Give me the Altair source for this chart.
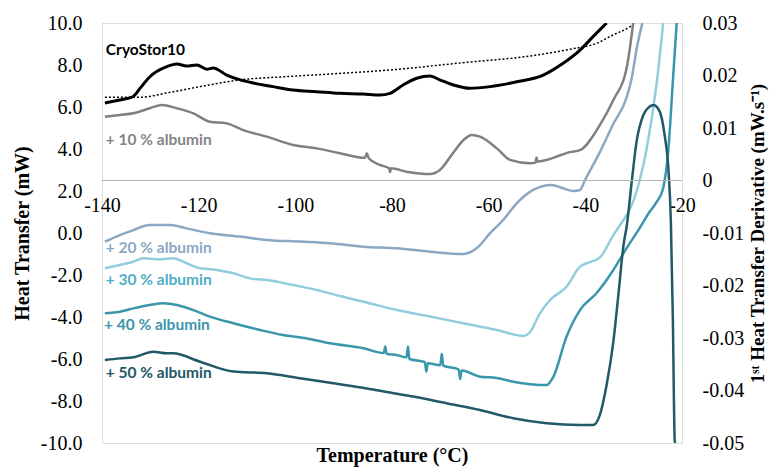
import altair as alt
import pandas as pd

# ---------------- data ----------------
cryo_x = [-139.4, -136.3, -133.6, -132.1, -130.1, -126.6, -124.5, -122.5, -120.4, -118.3, -117.0,
          -114.2, -111.4, -108.7, -104.6, -100.5, -95.6, -90.8, -86.0, -82.5, -80.4, -77.7, -74.9,
          -72.1, -70.1, -67.3, -63.9, -59.7, -54.2, -48.7, -44.6, -41.1, -38.4, -35.6]
cryo_y = [6.19, 6.33, 6.49, 6.9, 7.44, 7.92, 8.05, 7.95, 8.0, 7.8, 7.86,
          7.52, 7.29, 7.14, 6.97, 6.81, 6.73, 6.65, 6.62, 6.57, 6.65, 7.05, 7.37,
          7.48, 7.29, 7.05, 6.89, 6.97, 7.2, 7.52, 8.08, 8.71, 9.35, 10.0]

dot_x = [-139.4, -132.1, -126.6, -119.7, -111.4, -102.5, -92.8, -79.0, -65.3, -51.4, -43.2,
         -37.7, -34.3, -30.8, -29.8]
dot_y = [6.46, 6.46, 6.67, 6.97, 7.29, 7.44, 7.57, 7.79, 8.11, 8.43, 8.75,
         9.03, 9.43, 9.82, 10.0]

a10_x = [-139.4, -136.3, -133.5, -130.1, -127.6, -124.5, -121.1, -117.7, -114.2, -110.8, -105.9,
         -100.4, -95.6, -90.8, -85.6, -85.2, -84.8, -82.5, -80.6, -80.4, -80.2, -77.0, -72.1,
         -70.1, -67.4, -65.2, -63.5, -61.8, -58.3, -55.6, -51.4, -50.3, -50.1, -49.9, -48.0,
         -45.2, -43.2, -41.1, -37.0, -34.2, -31.4, -30.1]
a10_y = [5.54, 5.62, 5.7, 5.94, 6.1, 5.94, 5.7, 5.3, 5.22, 4.9, 4.59,
         4.19, 4.03, 3.8, 3.58, 3.8, 3.56, 3.24, 3.08, 2.9, 3.08, 2.92, 2.81,
         3.0, 3.8, 4.43, 4.67, 4.59, 4.03, 3.48, 3.32, 3.35, 3.6, 3.4, 3.48,
         3.7, 3.85, 3.95, 5.14, 6.33, 7.92, 10.0]

a20_x = [-139.4, -136.3, -133.5, -130.1, -125.9, -122.5, -117.7, -111.4, -105.9, -99.0, -92.8,
         -85.9, -79.0, -72.1, -65.2, -62.5, -59.7, -57.0, -54.2, -50.8, -47.0, -44.6, -42.5,
         -41.1, -40.1, -37.0, -34.2, -31.4, -30.3, -29.4, -28.2]
a20_y = [-0.41, -0.1, 0.14, 0.38, 0.38, 0.22, -0.01, -0.17, -0.33, -0.41, -0.49,
         -0.65, -0.73, -0.89, -1.0, -0.73, -0.01, 0.62, 1.41, 2.05, 2.29, 2.13, 2.0,
         2.05, 2.5, 3.85, 5.2, 6.5, 7.5, 8.75, 10.0]

a30_x = [-139.4, -136.3, -133.5, -131.5, -128.0, -125.3, -122.5, -119.7, -116.3, -112.8, -109.4,
         -105.9, -100.4, -95.6, -90.8, -85.9, -79.0, -72.1, -65.2, -58.3, -52.8, -51.4, -49.4,
         -47.3, -43.9, -41.1, -39.7, -37.0, -34.2, -32.8, -30.1, -27.3, -25.2, -23.9]
a30_y = [-1.68, -1.52, -1.37, -1.2, -1.25, -1.2, -1.44, -1.68, -1.76, -1.92, -2.16,
         -2.24, -2.48, -2.71, -3.0, -3.27, -3.67, -3.98, -4.3, -4.62, -4.9, -4.7, -3.83,
         -3.19, -2.56, -1.6, -1.44, -1.17, -0.1, 0.38, 1.49, 4.03, 7.2, 10.0]

a40_x = [-139.4, -136.3, -133.5, -130.1, -127.3, -124.5, -121.1, -117.7, -112.8, -107.3, -102.5,
         -97.6, -92.8, -85.9, -81.7, -81.4, -81.1, -79.0, -77.0, -76.7, -76.4, -73.2, -72.9,
         -72.6, -70.0, -69.7, -69.4, -66.2, -65.9, -65.6, -61.8, -58.3, -54.9, -48.0, -46.6,
         -43.9, -41.1, -37.7, -34.2, -31.4, -28.7, -26.7, -25.2, -23.9, -22.8, -21.9, -21.1]
a40_y = [-3.82, -3.75, -3.59, -3.43, -3.35, -3.43, -3.67, -3.98, -4.3, -4.62, -4.86,
         -5.02, -5.25, -5.49, -5.72, -5.4, -5.75, -5.81, -5.92, -5.4, -6.0, -6.15, -6.6,
         -6.2, -6.3, -5.75, -6.32, -6.5, -6.95, -6.55, -6.84, -6.9, -7.08, -7.24, -6.84,
         -4.94, -3.67, -2.87, -1.76, -0.7, 0.26, 1.01, 1.49, 2.13, 4.03, 7.2, 10.0]

a50_x = [-139.4, -136.3, -133.5, -129.4, -126.6, -125.3, -119.7, -112.8, -105.9, -99.0, -92.1,
         -85.2, -79.7, -75.6, -68.7, -61.8, -54.9, -48.0, -41.1, -38.4, -37.0, -35.6, -34.2,
         -33.1, -32.1, -31.4, -30.4, -29.4, -28.0, -26.8, -25.9, -24.6, -23.6, -22.8, -22.3,
         -21.9, -21.5, -21.4]
a50_y = [-6.05, -5.97, -5.92, -5.65, -5.73, -5.73, -6.13, -6.6, -6.68, -6.92, -7.16,
         -7.4, -7.63, -7.79, -8.11, -8.43, -8.82, -9.06, -9.14, -9.14, -8.67, -7.24, -5.17,
         -2.8, -0.57, 0.38, 2.44, 4.35, 5.62, 6.0, 6.1, 5.78, 4.67, 3.0, 0.5,
         -4.0, -9.9, -10.0]

series_names = ["CryoStor10", "+ 10 % albumin", "+ 20 % albumin", "+ 30 % albumin",
                "+ 40 % albumin", "+ 50 % albumin"]
series_colors = ["#000000", "#808080", "#8aa8c4", "#92cddc", "#3a96ab", "#215967"]
label_colors = ["#000000", "#858585", "#8aa8c4", "#4eaec6", "#3a96ab", "#215967"]

label_x = [-139.2, -139.2, -139.2, -139.2, -139.6, -139.2]
label_y = [8.71, 4.43, -0.73, -2.24, -4.38, -6.68]

x_ticks = [-140, -120, -100, -80, -60, -40, -20]
y_ticks = [-10, -8, -6, -4, -2, 0, 2, 4, 6, 8, 10]
r_ticks = [-0.05, -0.04, -0.03, -0.02, -0.01, 0, 0.01, 0.02, 0.03]
r_zero = [0]

# ---------------- tables ----------------
rows = []
for name, xs, ys in zip(series_names,
                        [cryo_x, a10_x, a20_x, a30_x, a40_x, a50_x],
                        [cryo_y, a10_y, a20_y, a30_y, a40_y, a50_y]):
    for i, (xv, yv) in enumerate(zip(xs, ys)):
        rows.append({"series": name, "t": xv, "h": yv, "i": i})
df = pd.DataFrame(rows)
df_dot = pd.DataFrame({"t": dot_x, "h": dot_y, "i": list(range(len(dot_x)))})
df_lab = pd.DataFrame({"series": series_names, "t": label_x, "h": label_y})
df_zero = pd.DataFrame({"d": r_zero})

SERIF = "Liberation Serif"
MINUS_FIX = "replace(datum.label, '\u2212', '-')"

xscale = alt.Scale(domain=[-140, -20], nice=False, zero=False)
yscale = alt.Scale(domain=[-10, 10], nice=False, zero=False)
cscale = alt.Scale(domain=series_names, range=series_colors)
lscale = alt.Scale(domain=series_names, range=label_colors)

x_enc = alt.X("t:Q", scale=xscale,
              axis=alt.Axis(values=x_ticks, orient="bottom", offset=-261, domain=False,
                            ticks=False, grid=False, labelPadding=13, labelFont=SERIF,
                            labelFontSize=20, labelColor="#000000", labelExpr=MINUS_FIX,
                            labelFlush=False, labelOverlap=False,
                            title="Temperature (°C)", titleFont=SERIF, titleFontSize=20,
                            titleFontWeight="bold", titleColor="#000000",
                            titleY=279, titleBaseline="alphabetic"))
y_enc = alt.Y("h:Q", scale=yscale,
              axis=alt.Axis(values=y_ticks, orient="left", domain=False, ticks=False,
                            grid=False, format=".1f", labelPadding=20, labelFont=SERIF,
                            labelFontSize=20, labelColor="#000000", labelExpr=MINUS_FIX,
                            labelFlush=False, labelOverlap=False,
                            title="Heat Transfer (mW)", titleFont=SERIF, titleFontSize=20,
                            titleFontWeight="bold", titleColor="#000000",
                            titleX=-80, titleY=210, titleAngle=270,
                            titleAlign="center", titleBaseline="middle"))

colored = alt.Chart(df[df.series != "CryoStor10"]).mark_line(
    strokeWidth=2.5, clip=True, interpolate="monotone"
).encode(
    x=x_enc, y=y_enc,
    color=alt.Color("series:N", scale=cscale, legend=None),
    detail="series:N", order="i:Q",
)

black = alt.Chart(df[df.series == "CryoStor10"]).mark_line(
    strokeWidth=3, clip=True, color="#000000", interpolate="monotone"
).encode(x="t:Q", y="h:Q", order="i:Q")

dotted = alt.Chart(df_dot).mark_line(
    strokeWidth=1.5, strokeDash=[2, 2], color="#000000", clip=True, interpolate="monotone"
).encode(x="t:Q", y="h:Q", order="i:Q")

labels = alt.Chart(df_lab).mark_text(
    align="left", baseline="middle", font="Lato", fontSize=15.5, fontWeight="bold"
).encode(
    x="t:Q", y="h:Q", text="series:N",
    color=alt.Color("series:N", scale=lscale, legend=None),
)

left = alt.layer(dotted, colored, black, labels).resolve_scale(color="independent")

zero_rule = alt.Chart(df_zero).mark_rule(color="#b4b4b4", strokeWidth=1.2).encode(
    y=alt.Y("d:Q", scale=alt.Scale(domain=[-0.05, 0.03], nice=False, zero=False),
            axis=alt.Axis(values=r_ticks, orient="right", domain=False, ticks=False,
                          grid=False, format=".2~f", labelPadding=20, labelFont=SERIF,
                          labelFontSize=20, labelColor="#000000", labelExpr=MINUS_FIX,
                          labelFlush=False, labelOverlap=False,
                          title="1ˢᵗ Heat Transfer Derivative (mW.s⁻¹)", titleFont=SERIF,
                          titleFontSize=19, titleFontWeight="bold", titleColor="#000000",
                          titleX=75, titleY=210, titleAngle=270,
                          titleAlign="center", titleBaseline="middle"))
)

chart = alt.layer(left, zero_rule).resolve_scale(y="independent").properties(
    width=580, height=420,
    autosize=alt.AutoSizeParams(type="none"),
    padding={"left": 94, "top": 15, "right": 88, "bottom": 24},
).configure_view(stroke="#a8a8a8", strokeWidth=1.2).configure(background="white")

chart.save("out.html", embed_options={"renderer": "svg", "actions": False})
